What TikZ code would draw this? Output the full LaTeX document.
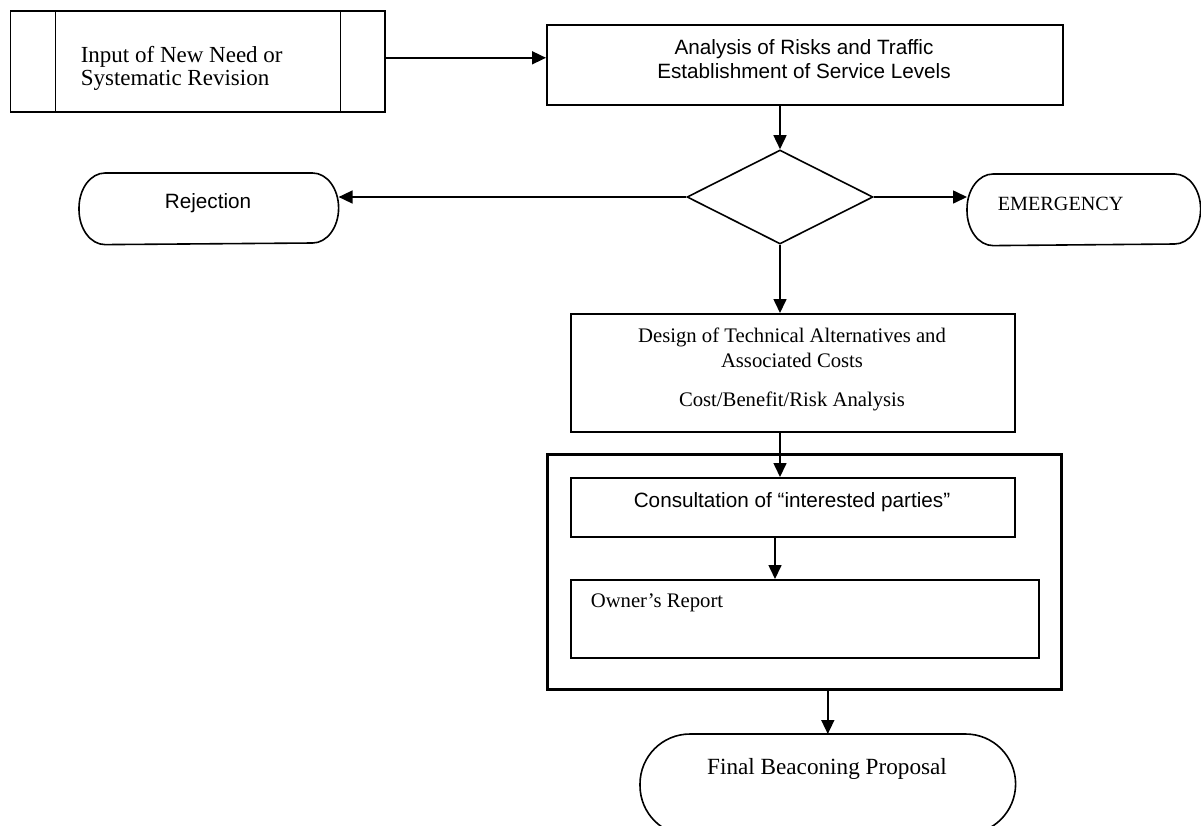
\documentclass[tikz,border=0pt]{standalone}
\usepackage{fontspec}
\setmainfont{Liberation Serif}
\newfontfamily\arialf{Liberation Sans}
\usetikzlibrary{arrows.meta,shapes.geometric}

% outline of a terminal (stadium with elliptic ends) around an empty node
\newcommand\termoutline[3]{%
  \draw[line join=round] ([yshift=-#3]#1.north west)
    arc[start angle=180,end angle=90,x radius=#2,y radius=#3]
    -- ([xshift=-#2]#1.north east)
    arc[start angle=90,end angle=-90,x radius=#2,y radius=#3]
    -- ([xshift=#2]#1.south west)
    arc[start angle=270,end angle=180,x radius=#2,y radius=#3] -- cycle;}

\begin{document}
\begin{tikzpicture}[x=1pt,y=-1pt,
  line width=1.6pt,
  box/.style={draw, rectangle, inner sep=0pt, anchor=north west},
  frame/.style={rectangle, inner sep=0pt, anchor=north west},
  flow/.style={-{Triangle[length=14pt,width=13pt]}},
  sertext/.style={font=\fontsize{20.7}{25}\selectfont, inner sep=0pt},
  bigser/.style={font=\fontsize{23}{23}\selectfont, inner sep=0pt},
  santext/.style={font=\arialf\fontsize{20.7}{24}\selectfont, inner sep=0pt},
]
\useasboundingbox (0,0) rectangle (1201,825);
\clip (0,0) rectangle (1201,825);

% input (predefined process)
\node[box, minimum width=374.4pt, minimum height=101pt] (input) at (9.6,10) {};
\draw ([xshift=46pt]input.north west) -- ([xshift=46pt]input.south west);
\draw ([xshift=-45pt]input.north east) -- ([xshift=-45pt]input.south east);
\node[bigser, align=left, anchor=west] (inputtxt) at (80,68)
  {Input of New Need or\\Systematic Revision};

% analysis
\node[box, minimum width=516pt, minimum height=80pt] (analysis) at (546,24) {};
\node[santext, align=center] (analysistxt) at (804,59)
  {Analysis of Risks and Traffic\\Establishment of Service Levels};

% decision
\node[draw, diamond, minimum width=186pt, minimum height=94pt, inner sep=0pt] (dec) at (780,197) {};

% terminals
\node[frame, minimum width=258pt, minimum height=70pt] (rej) at (79,173) {};
\termoutline{rej}{26pt}{35pt}
\node[santext] (rejtxt) at (208,203) {Rejection};

\node[frame, minimum width=232pt, minimum height=70pt] (emg) at (967,174) {};
\termoutline{emg}{26pt}{35pt}
\node[sertext, font=\fontsize{20.2}{24}\selectfont, anchor=west] (emgtxt) at (997,204) {EMERGENCY};

% design
\node[box, minimum width=444pt, minimum height=118pt] (design) at (570,313) {};
\node[sertext, align=center] (designtxt) at (792,369)
  {Design of Technical Alternatives and\\Associated Costs\\[14pt]Cost/Benefit/Risk Analysis};

% consultation group
\node[box, line width=2.5pt, minimum width=514pt, minimum height=235pt] (outer) at (546,453) {};
\node[box, minimum width=444pt, minimum height=59pt] (consult) at (570,477) {};
\node[santext] (consulttxt) at (792,502) {Consultation of “interested parties”};
\node[box, minimum width=468pt, minimum height=78pt] (owner) at (570,579) {};
\node[sertext, anchor=west] (ownertxt) at (590,603) {Owner’s Report};

% final terminal
\node[frame, minimum width=374pt, minimum height=100pt] (final) at (640,734) {};
\termoutline{final}{50pt}{50pt}
\node[bigser, font=\fontsize{23.2}{26}\selectfont] (finaltxt) at (827,769) {Final Beaconing Proposal};

% connectors
\coordinate (kx) at (775,0);
\draw[flow] ([yshift=3.5pt]input.east) -- ([yshift=3.5pt]input.east -| analysis.west);
\draw[flow] (dec.north |- analysis.south) -- (dec.north);
\draw[flow] (dec.west) -- (dec.west -| rej.east);
\draw[flow] (dec.east) -- (dec.east -| emg.west);
\draw[flow] (dec.south) -- (dec.south |- design.north);
\draw[flow] (dec.south |- design.south) -- (dec.south |- consult.north);
\draw[flow] (consult.south -| kx) -- (owner.north -| kx);
\draw[flow] (final.north |- outer.south) -- (final.north);
\end{tikzpicture}
\end{document}
